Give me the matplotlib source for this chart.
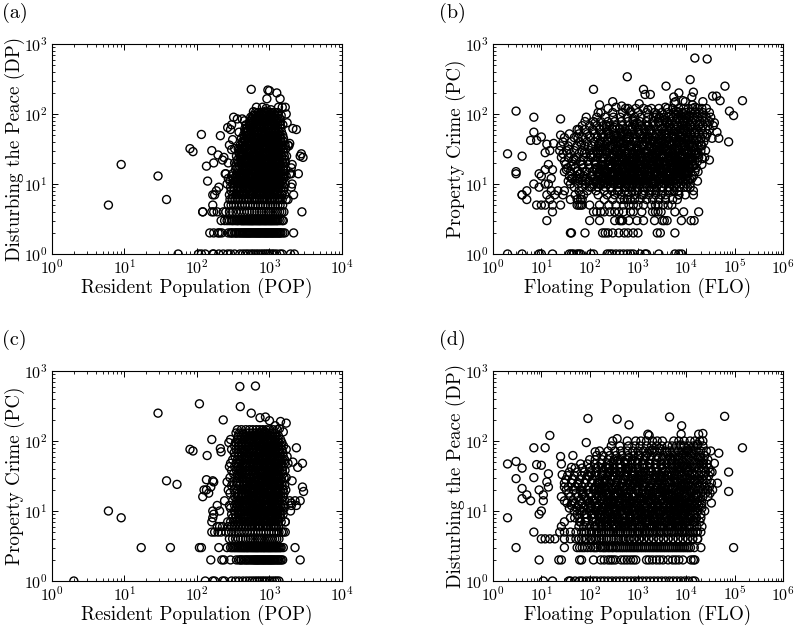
import numpy as np
import matplotlib
matplotlib.use('Agg')
import matplotlib.pyplot as plt
from matplotlib.ticker import LogLocator

# Font mirip LaTeX
plt.rcParams['font.family'] = ['cmr10', 'DejaVu Serif']
plt.rcParams['mathtext.fontset'] = 'cm'
plt.rcParams['axes.formatter.use_mathtext'] = True
plt.rcParams['axes.unicode_minus'] = False

# (a) POP vs DP, titik yang terpisah
a_x = [6,9,29,38,80,88,115,120,135,140,160,170,165,175,185,200,210,195,225,235,245,270,265,290,300,320,310,280,300,330,360,420,380,450,560,950,1000,920,1260,1400,1500,1650,1330,1700,1750,2100,2350,1900,1850,2050,2000,2000,2500,2650,2750,2900,2050,2000,2150,1800,2800,660,800,900,1050,600]
a_y = [5,19,13,6,32,29,51,4,18,11,30,20,7,7,8,9,49,26,22,24,14,20,64,60,70,90,43,36,31,32,85,85,55,80,225,220,215,165,200,165,125,125,125,100,75,62,60,38,35,19,17,14,14,25,27,24,10,9,7,6,4,125,125,120,115,108]
# (a) baris per nilai DP
a_levels = [1,2,3,4,5,6,7,8,9,10,11,12,13,14,16,18,20,22,25,28,32,36,40,45,50,56,63,70,78,86,95,105,2,3]
a_rows = [
 [55,105,115,130,165,170,200,230,265,290,330,390,430,470,510,560,600,650,700,760,820,880,940,1000,1080,1150,1250,1400,1500,1950,2200],
 [150,170,195,205,220,270,290,310,330,350,370,385,400,430,460,490,520,550,590,630,670,710,750,800,850,900,950,1010,1070,1130,1200,1280,1360,1440,1530,1620,2150],
 [215,240,260,280,300,330,350,375,400,425,450,480,510,540,570,600,640,680,720,760,810,860,910,970,1030,1090,1160,1240,1320,1400,1500,1550],
 [120,160,170,190,230,250,280,310,345,375,410,450,490,530,575,620,670,720,780,840,900,970,1040,1120,1200,1290,1380,1480,1580],
 [165,270,295,320,350,385,420,460,500,545,590,640,690,750,810,880,950,1030,1110,1200,1300,1400,1520],
 [285,305,335,365,400,440,480,525,570,620,675,730,790,860,930,1010,1090,1180,1280,1390,1500,1700],
 [280,310,345,380,415,455,500,545,595,650,710,770,840,910,990,1070,1160,1260,1370,1490,1620],
 [295,325,355,390,430,470,515,565,615,670,730,795,865,940,1020,1110,1210,1310,1430,1560],
 [290,320,360,395,435,480,525,575,630,685,745,810,880,960,1040,1130,1230,1340,1460,1590],
 [260,310,340,375,410,450,495,540,590,645,705,770,835,910,990,1080,1170,1270,1390,1510,1650],
 [285,330,365,405,445,490,535,585,640,695,760,825,900,980,1060,1155,1255,1365,1490],
 [270,320,350,390,430,470,520,565,620,675,735,800,870,950,1030,1120,1215,1320,1440,1570],
 [300,345,380,420,460,505,555,605,660,720,785,850,925,1005,1090,1190,1290,1410,1540,1700],
 [250,310,355,395,435,480,525,575,630,690,750,815,890,965,1050,1140,1240,1350,1470,1600,1900],
 [340,375,415,455,500,550,600,655,715,780,850,925,1005,1095,1190,1295,1410,1530,1680],
 [345,385,425,470,515,565,615,675,735,800,870,950,1030,1120,1220,1330,1450,1580],
 [330,370,410,450,495,545,595,650,710,775,845,920,1000,1090,1185,1290,1400,1530,1660],
 [360,400,440,485,530,580,635,695,755,825,900,980,1065,1160,1260,1370,1500,1630],
 [350,390,430,475,520,570,625,680,745,810,880,960,1045,1135,1240,1350,1470,1600,1720],
 [380,420,465,510,560,610,670,730,795,865,940,1025,1115,1215,1320,1440,1570],
 [370,410,450,495,545,600,655,715,780,850,925,1005,1095,1190,1300,1415,1540,1680],
 [395,435,480,525,580,635,695,755,825,900,980,1065,1160,1265,1380,1500,1640,1800],
 [420,460,505,555,610,665,725,790,860,940,1020,1110,1210,1320,1440,1570],
 [410,450,495,545,600,660,720,785,855,930,1015,1105,1205,1310,1430,1560],
 [440,485,530,585,640,700,765,835,910,990,1080,1175,1280,1395,1520],
 [460,505,555,610,670,730,800,870,950,1035,1130,1230,1340,1460],
 [490,540,590,650,710,775,845,920,1005,1095,1195,1300,1420],
 [470,530,585,640,700,765,835,910,995,1085,1180,1290,1410,1530],
 [540,595,650,715,780,850,930,1010,1100,1200,1310,1420],
 [570,625,685,750,820,895,975,1060,1155,1260,1380],
 [590,650,710,775,845,920,1005,1095,1195,1300,1450],
 [640,700,770,840,920,1000,1090,1190,1300],
 [300,345,415,445,475,505,535,570,610,650,690,730,775,825,875,925,980,1040,1100,1165,1240,1320,1400],
 [312,362,412,437,465,495,525,555,585,620,660,700,740,785,835,885,940,1000,1060,1125,1200,1280],
]
# (a) titik tambahan di bagian padat
a_x2 = [355,372,388,402,418,433,447,462,476,491,506,519,533,548,561,577,592,606,621,634,649,664,678,693,707,722,736,751,766,779,794,808,823,838,852,867,881,896,911,924,939,953,968,983,997,1012,1026,1041,1056,1069,1084,1098,1113,1128,1142,1157,1171,1186,1201,1214,1229,1243,1258,1273,1287,1302,1316,1331,1346,1359,
 362,381,397,411,426,441,455,470,485,498,513,527,542,556,570,585,599,614,629,642,657,671,686,701,715,730,744,759,774,787,802,816,831,846,860,875,889,904,919,932,947,961,976,991,1005,1020,1034,1049,1064,1077,1092,1106,1121,1136,1150,1165,1179,1194,1209,1222,1237,1251,1266,1281,1295,1310,1324,1339,1354,1367,
 410,438,466,494,522,551,578,607,635,664,692,721,749,778,806,835,863,892,920,949,977,1006,1034,1063,1091,1120,1148,1177,1205,1234,1262,1291,1319]
a_y2 = [17,9,31,12,24,7,42,15,11,58,21,8,35,13,74,19,10,47,27,6,16,88,37,12,23,9,64,29,15,52,8,19,97,33,11,43,25,7,17,69,14,39,9,21,83,28,12,55,18,6,34,10,46,24,72,15,8,30,13,60,20,11,41,7,26,16,50,9,22,36,
 11,27,8,19,38,14,61,23,9,16,49,12,29,7,83,21,34,10,15,66,26,8,44,18,11,93,31,13,24,6,54,17,9,37,20,78,12,28,8,47,15,10,63,22,33,7,13,102,41,18,9,25,11,58,16,35,8,71,21,12,44,27,14,30,
 6,8,10,13,16,20,26,32,42,55,70,90,7,9,12,15,19,24,30,38,48,62,80,110,6,8,11,14,18,23,29,37,47]

# (b) FLO vs PC, titik yang terpisah
b_x = [2,3,3,3,4,4,5,6,7,7,8,9,10,12,14,16,13,15,12,14,18,17,25,25,120,160,150,240,350,600,550,130,1300,1400,1800,3800,7000,12000,15000,27000,14000,5500,6000,9500,13000,22000,35000,42000,50000,63000,78000,95000,145000,75000,47000,30000,38000,43000,34000,30000,60]
b_y = [27,15,14,110,7,25,8,42,55,90,42,14,47,16,10,12,37,30,28,19,38,16,85,50,225,135,105,120,125,340,120,75,225,190,190,250,200,310,630,610,205,175,150,150,175,150,180,180,155,250,110,95,155,40,45,60,75,55,45,22,60]
b_levels = [120,105,90,78,68,60,52,46,40,35,30,27,24,21,19,17,15,13,12,11,10,9,8,7,6,5,4,3,2,1]
b_rows = [
 [620,900,1300,1900,2700,4100,5200,7000,8800,11000,13500,17000,21000,26000],
 [170,300,480,700,1000,1500,2200,3100,4100,5400,6700,8300,10000,12500,15000,18000,22000,30000],
 [85,140,210,310,430,600,850,1150,1600,2100,2800,3500,4400,5400,6600,8000,9500,11500,14000,17000,21000,26000,32000],
 [80,120,170,240,330,450,620,820,1100,1500,2000,2600,3200,4000,5000,6000,7300,8900,10500,13000,16000,19000,24000,30000],
 [70,100,140,190,260,350,480,650,880,1200,1600,2100,2800,3600,4500,5600,6800,8200,10000,12500,15000,18000,22000,28000,36000],
 [55,80,115,160,220,300,410,550,750,1000,1350,1800,2400,3100,3900,4900,6000,7400,9000,11000,13500,16500,20000,25000],
 [38,60,90,125,175,240,330,450,610,830,1100,1500,2000,2700,3500,4400,5500,6700,8200,10000,12200,15000,18000,22000,27000],
 [30,48,72,105,145,200,270,370,500,680,920,1250,1700,2300,3000,3900,5000,6100,7500,9200,11000,13500,16500,20000,25000],
 [28,42,62,88,125,170,235,320,430,590,800,1080,1450,1950,2600,3400,4400,5600,6900,8400,10200,12500,15000,18500,23000],
 [25,36,54,78,110,150,205,280,380,520,700,950,1280,1750,2350,3100,4000,5100,6300,7800,9500,11500,14000,17000,21000],
 [24,33,48,70,100,135,185,250,340,460,630,850,1150,1550,2100,2800,3700,4700,5900,7300,9000,11000,13000,16000,20000,25000],
 [28,40,60,85,120,165,225,300,410,560,760,1020,1400,1900,2500,3300,4300,5400,6700,8300,10000,12500,15500],
 [26,36,52,76,105,145,195,265,360,490,670,910,1230,1660,2250,3000,3900,4900,6200,7600,9300,11500,14000,18000,24000],
 [30,44,64,92,130,180,240,325,440,600,810,1100,1480,2000,2700,3600,4600,5800,7200,8900,11000,13500,17000],
 [32,46,68,96,135,185,250,340,460,620,840,1140,1540,2100,2800,3700,4700,6000,7400,9000,11000,14000,21000],
 [35,50,72,100,140,195,265,360,490,660,890,1200,1630,2200,2950,3900,5000,6300,7800,9600,12000,16000],
 [30,40,56,80,115,160,220,300,405,550,745,1010,1370,1850,2500,3350,4400,5600,7000,8700,11000,15000],
 [10,38,52,75,105,150,210,285,390,530,715,970,1310,1770,2400,3200,4200,5400,6800,8400,10500,14000],
 [42,60,85,125,175,240,330,445,600,810,1100,1480,2000,2700,3600,4700,6000,7600,9500,13000],
 [36,50,70,100,145,200,275,375,505,685,925,1250,1690,2300,3100,4100,5300,6800,8500,11000,17000],
 [7,12,40,58,82,120,170,230,320,430,580,780,1060,1430,1950,2650,3550,4700,6100,7800,10000,12000],
 [9,48,70,100,150,210,280,380,520,700,950,1300,1750,2400,3200,4300,5600,7200,9000,12000],
 [16,22,30,60,90,135,200,290,400,550,750,1000,1350,1800,2400,3200,4200,5600,7000,14000],
 [4,13,19,28,50,65,75,150,230,330,450,620,860,1200,1700,2300,3000,3700,7000,9500,14000],
 [5,15,40,55,65,70,200,300,430,520,600,700,850,1100,1500,2000,2700,3700,5200,6500],
 [8,10,12,17,25,55,60,65,70,100,160,250,350,500,650,800,1000,1300,1900,2300,2600,3300,4200,5000],
 [17,120,140,170,200,260,330,400,500,700,800,1200,2000,2300,2600,3000,5800,8800,18000],
 [13,100,160,330,420,450,480,650,950,1300,2200,3200,3500,4000,7900,12500,14500],
 [40,42,80,185,210,240,300,400,520,620,800,1000,2500,2900,5800],
 [2,4,9,10,17,38,42,46,55,60,65,105,120,230,260,290,350,420,500,600,700,800,1100,1400,1500,2700,5800,7000,8000],
]
# (b) titik tambahan di bagian padat
b_x2 = [33,37,44,51,57,64,73,82,93,104,112,121,134,147,158,171,186,203,219,236,252,271,292,316,341,365,392,419,448,482,517,553,592,634,681,729,783,838,897,962,1030,1104,1183,1268,1358,1455,1559,1670,1790,1918,2055,2202,2359,2528,2708,2902,3109,3331,3569,3824,4097,4390,4704,5040,5400,5786,6199,6642,7117,7625,8170,8754,9379,10050,10768,11537,12361,13245,14191,15205,16292,17456,18703,20040,21471,
 41,55,68,86,99,117,139,163,192,226,258,297,336,385,436,497,566,648,737,842,961,1096,1250,1427,1628,1857,2119,2418,2759,3148,3592,4098,4676,5336,6088,6946,7925,9042,10317,11771,13431,15324,17484,19950,
 47,62,78,96,127,154,181,213,247,286,328,376,430,493,563,644,735,840,958,1094,1249,1425,1626,1856,2118,2417,2758,3147,3591,4097,4675,5335,6087,6945,7924,9041,10316,11770,13430,15323,
 110,132,158,189,224,268,318,380,452,540,643,766,913,1089,1298,1547,1844,2198,2620,3123,3722,4437,5289,6304,7515,8957,
 128,152,181,217,260,310,372,444,531,635,759,908,1086,1299,1554,1858,2222,2658,3179,3802,4547,5438,6504,7779,9304,
 300,370,460,570,700,860,1060,1300,1600,1980,2440,3000,3700,4560,5620,6930,8540,10530]
b_y2 = [16,31,12,22,45,14,19,11,35,26,13,58,17,28,10,41,21,15,70,33,12,24,18,49,11,29,16,62,38,13,23,10,20,44,14,31,82,17,12,26,55,19,11,36,15,68,24,13,42,18,10,28,90,33,16,12,52,21,37,14,76,25,17,11,46,31,110,19,13,60,27,39,15,85,22,12,50,34,18,125,28,15,72,44,23,
 18,12,37,15,48,24,10,30,13,66,19,11,42,16,27,56,12,21,34,14,75,17,10,25,46,13,32,20,88,15,38,11,62,23,100,17,43,14,30,95,19,54,26,36,
 23,14,28,11,20,38,16,12,52,25,14,10,33,18,44,12,22,72,15,27,11,40,19,60,13,24,35,17,82,12,29,48,16,105,21,68,14,37,135,26,
 9,11,13,10,12,9,14,10,11,13,9,12,10,14,11,9,13,10,12,15,11,9,13,10,12,14,
 16,14,18,15,17,13,19,16,14,18,15,20,13,17,16,19,14,18,15,17,13,20,16,18,14,
 150,8,130,9,110,8,140,7,115,8,100,9,125,8,145,7,155,9]

# (b) dan (d) memakai nilai FLO yang sama untuk bagian tengah
flo_x3 = [150,157,164,171,179,187,195,204,213,223,233,243,254,266,278,290,303,317,331,346,362,378,395,413,431,451,471,492,514,537,561,587,613,640,669,699,731,764,798,834,871,911,951,994,1039,1086,1135,1186,1239,1295,1353,1414,1478,1544,1614,1686,1762,1842,1925,2011,2102,2196,2295,2398,2506,2619,2737,2860,2989,3123,3264,3411,3564,3725,3892,4067,4250,4442,4641,4850,5068,5296,5535,5784,6044,6316,6600,6897,7208,7532,7871,8225,8596,8982,9387,9809,10251,10712,11194,11698,
 160,168,175,183,192,200,209,218,229,238,249,260,272,284,297,310,325,339,354,371,387,404,423,441,461,482,504,526,550,574,601,627,655,685,715,748,782,817,853,892,932,974,1018,1063,1111,1161,1213,1268,1325,1385,1447,1513,1580,1652,1726,1804,1885,1970,2058,2151,2248,2349,2455,2565,2681,2801,2927,3059,3197,3340,3491,3648,3812,3984,4163,4350,4546,4751,4965,5188,5422,5666,5921,6188,6466,6757,7061,7379,7711,8059,8421,8800,9197,9611,10043,10495,10967,11461,11977,12516]
b_y3 = [27,14,38,19,11,46,23,16,31,12,57,21,35,13,18,43,26,11,64,17,29,14,39,22,12,50,19,33,15,25,45,12,28,17,60,21,36,13,24,41,16,11,31,54,19,14,27,37,12,22,48,17,30,13,68,20,34,15,26,42,11,23,18,52,29,14,38,21,16,62,25,12,33,19,45,15,28,72,13,22,36,17,56,26,14,40,20,31,12,48,24,16,80,34,19,58,27,14,43,22,
 16,33,12,24,52,18,13,29,41,15,22,11,36,19,61,14,26,17,44,12,31,21,13,55,24,16,38,11,28,19,47,14,34,22,12,66,17,27,15,40,23,11,30,18,51,13,25,35,16,20,12,43,28,14,58,19,33,11,24,37,17,46,13,21,75,29,15,40,12,26,18,53,32,14,23,64,11,36,19,27,16,48,22,13,85,30,17,41,25,12,60,20,35,15,95,28,44,18,70,24]
d_y3 = [12,7,24,9,16,33,8,19,11,6,28,14,41,9,21,7,13,36,10,17,6,26,12,8,47,15,9,22,7,31,11,18,6,39,13,8,25,10,16,7,52,20,9,12,29,6,15,35,8,23,11,7,18,44,10,14,6,27,9,19,33,7,12,24,8,57,16,10,6,30,13,21,7,38,9,15,11,26,6,48,17,8,12,34,7,20,10,42,14,6,23,9,65,18,11,7,29,13,37,8,
 21,10,6,15,38,8,12,26,7,18,9,45,13,6,31,11,17,8,23,7,54,14,10,28,6,19,9,35,12,7,16,42,8,24,11,6,29,13,7,20,9,50,15,6,33,10,18,8,25,12,61,7,14,37,9,22,6,16,11,30,8,47,13,7,19,27,6,10,40,15,8,23,12,70,7,17,9,32,6,21,11,14,55,8,26,7,18,10,36,13,6,44,9,24,16,7,75,12,28,8]

# (c) POP vs PC, titik yang terpisah
c_x = [2,6,9,17,29,38,43,53,80,88,108,115,135,138,145,160,165,210,215,230,390,395,640,560,740,880,1000,1200,1420,1700,1550,1370,2350,2850,2450,2100,2050,2850,2950,2650,2000,1950,2250,2350,1650,1650,135,125,120,170,155]
c_y = [1,10,8,3,250,27,3,24,76,72,340,3,28,62,18,105,27,78,70,200,600,310,610,250,215,220,195,165,190,180,135,150,80,48,42,50,27,22,19,14,13,10,14,12,7,5,20,20,16,26,22]
c_levels = [1,2,3,4,5,6,7,8,9,10,11,12,14,16,18,20,23,26,30,34,38,43,48,54,60,68,76,85,95,105,118,130,145,2,3]
c_rows = [
 [130,165,175,225,240,300,340,380,430,480,530,580,630,680,730,790,850,920,1000,1090,1180,1260,1350],
 [155,220,235,290,350,380,410,460,500,550,600,640,680,720,770,820,870,930,990,1050,1120,1200,1300,1450,1520,2650],
 [108,200,260,290,320,350,380,410,440,470,500,540,580,620,660,700,750,800,850,910,970,1030,1100,1180,1260,1350,1450,1550,2250],
 [280,310,340,370,400,430,470,510,550,590,630,680,730,780,840,900,960,1030,1100,1180,1260,1350],
 [160,175,195,215,250,275,300,335,370,405,445,490,535,585,640,700,760,830,900,980,1060,1150,1250,1350,1470,1550],
 [190,205,225,270,300,330,365,400,440,480,525,575,630,685,745,810,880,960,1040,1130,1230,1340],
 [160,265,290,320,355,390,430,470,515,565,615,670,735,800,870,950,1030,1120,1220,1330,1450,1650],
 [165,310,345,380,420,460,505,555,605,660,720,785,855,930,1015,1105,1200,1310,1430],
 [170,300,335,375,410,450,495,545,595,650,710,770,840,915,1000,1090,1185,1290,1410,1540],
 [165,205,330,365,405,445,490,535,585,640,700,765,830,905,985,1075,1170,1280,1395,1520],
 [290,345,385,425,465,510,560,615,670,730,795,865,945,1030,1120,1220,1330,1450,1600],
 [190,280,330,365,405,450,495,540,595,650,710,775,845,920,1000,1090,1190,1300,1420,1550,2000],
 [240,310,350,390,430,475,520,570,625,680,745,810,885,965,1050,1145,1250,1360,1480,1620,1900],
 [330,370,410,455,500,545,600,655,715,780,850,925,1005,1095,1195,1300,1420,1550],
 [285,340,380,420,465,510,560,610,670,730,795,865,945,1030,1120,1220,1330,1450,1590],
 [270,325,365,405,450,495,540,595,650,710,770,840,915,1000,1090,1190,1295,1410,1540,1680],
 [300,350,390,430,475,525,575,630,685,750,815,890,970,1055,1150,1255,1365,1490,1620],
 [260,310,355,395,440,485,530,580,635,695,760,825,900,980,1065,1160,1265,1380,1500],
 [285,340,380,420,465,510,560,615,670,730,795,870,945,1030,1125,1225,1335,1455,1590,1700],
 [320,365,405,450,495,545,595,650,710,775,845,920,1000,1090,1190,1300,1415,1540],
 [300,350,390,430,475,525,575,630,690,750,820,890,970,1060,1155,1260,1370,1500,1640],
 [280,330,370,410,450,495,545,600,655,715,780,850,925,1005,1100,1200,1305,1420,1550],
 [290,345,385,425,470,515,565,620,675,740,805,880,960,1045,1140,1240,1350,1470,1610,1800],
 [310,360,400,440,485,530,580,635,695,755,825,900,980,1065,1160,1265,1380,1500,1620],
 [335,375,415,455,500,550,600,655,715,780,850,925,1010,1100,1200,1305,1420,1550,1750],
 [325,365,405,445,490,540,590,645,705,770,840,915,995,1085,1185,1290,1400,1530],
 [300,345,385,425,470,515,565,620,680,740,810,880,960,1045,1140,1240,1350,1480,1700],
 [330,370,410,455,500,550,600,660,720,785,855,930,1015,1105,1205,1310,1430,1560],
 [275,340,380,420,465,515,565,620,680,740,805,880,960,1045,1140,1240,1355,1480],
 [290,360,400,445,490,540,590,650,710,775,845,920,1005,1095,1195,1300,1420],
 [370,410,455,500,550,605,660,725,790,860,940,1025,1115,1215,1330],
 [345,385,430,480,530,585,640,700,770,840,915,1000,1090,1190],
 [360,410,470,530,590,660,730,810,900,1010,1130,1280],
 [400,435,480,525,575,620,660,700,745,795,845,900,960,1020,1085,1160,1250,1340,1400],
 [305,335,365,395,425,455,490,520,560,600,640,680,725,775,830,880,940,1000,1065,1140,1220,1305,1400],
]
# (c) titik tambahan di bagian padat
c_x2 = [358,374,391,405,421,436,450,465,479,494,509,522,536,551,564,580,595,609,624,637,652,667,681,696,710,725,739,754,769,782,797,811,826,841,855,870,884,899,914,927,942,956,971,986,1000,1015,1029,1044,1059,1072,1087,1101,1116,1131,1145,1160,1174,1189,1204,1217,1232,1246,1261,1276,1290,1305,1319,1334,1349,1362,
 365,384,400,414,429,444,458,473,488,501,516,530,545,559,573,588,602,617,632,645,660,674,689,704,718,733,747,762,777,790,805,819,834,849,863,878,892,907,922,935,950,964,979,994,1008,1023,1037,1052,1067,1080,1095,1109,1124,1139,1153,1168,1182,1197,1212,1225,1240,1254,1269,1284,1298,1313,1327,1342,1357,1370,
 413,441,469,497,525,554,581,610,638,667,695,724,752,781,809,838,866,895,923,952,980,1009,1037,1066,1094,1123,1151,1180,1208,1237,1265,1294,1322]
c_y2 = [25,13,52,9,36,17,71,11,44,21,7,93,29,15,57,10,33,19,118,24,8,41,13,65,27,6,16,84,38,11,22,49,9,31,136,18,12,60,26,7,43,15,77,35,10,20,54,8,104,28,14,39,11,68,23,6,17,47,32,9,88,13,30,19,56,10,42,16,74,25,
 14,33,10,61,20,8,47,27,12,82,17,38,7,24,109,11,53,30,15,9,70,21,42,6,127,13,35,18,58,10,26,91,14,45,8,22,64,12,31,16,100,9,50,19,37,7,76,28,11,56,23,13,40,85,10,34,17,48,20,66,
 6,8,11,14,18,23,30,40,52,68,90,125,7,10,13,16,21,27,35,46,60,78,110,140,6,9,12,15,20,26,33,44,58]

# (d) FLO vs DP, titik yang terpisah
d_x = [2,2,3,3,3,4,4,4,5,6,7,7,8,9,9,10,10,12,13,15,14,14,11,11,92,370,370,650,4500,62000,8000,7800,145000,95000,75000,75000,47000,44000,38000,34000,33000,85,45,25,26,27,30,42,130,1600,1700,18000,22000]
d_y = [47,8,51,29,3,41,21,15,17,14,30,80,46,20,9,45,10,80,26,120,34,22,17,14,210,205,108,170,220,225,165,125,80,3,36,19,67,25,48,36,13,95,62,60,47,33,22,42,70,125,120,125,128]
d_levels = [100,85,72,62,54,47,41,36,32,28,25,22,20,18,16,14,13,12,11,10,9,8,7,6,5,4,3,2,1,5,4,3]
d_rows = [
 [300,600,900,1150,1500,2000,2500,3200,5500,7000,9000,12000,15000,19000,22000],
 [280,420,640,860,1100,1500,1900,2400,3100,4100,5100,6200,7600,9000,11000,14000,17000,22000],
 [160,240,330,440,600,780,1000,1300,1700,2200,2800,3600,4500,5600,6900,8500,10500,13000,16000,20000,26000,32000],
 [140,190,260,350,470,620,830,1100,1450,1900,2500,3300,4200,5300,6600,8100,10000,12500,15500,19000,24000],
 [100,130,180,240,320,430,570,760,1010,1350,1800,2400,3150,4100,5200,6500,8000,9900,12200,15000,18500,23000,28000],
 [65,90,125,170,230,305,410,545,725,970,1290,1720,2300,3000,3900,5000,6300,7800,9600,11800,14500,18000,22000,27000],
 [50,70,100,135,180,240,320,430,570,760,1010,1350,1800,2400,3150,4100,5200,6500,8000,9900,12200,15000,18500,23000,29000],
 [38,55,78,105,140,190,255,340,455,605,810,1080,1440,1920,2560,3400,4400,5600,7000,8700,10700,13200,16200,20000,25000,31000],
 [35,48,68,95,130,175,235,310,415,555,740,990,1320,1760,2350,3100,4000,5100,6400,8000,9800,12000,15000,18500,23000,29000],
 [32,44,62,85,115,155,210,280,375,500,670,890,1190,1590,2120,2800,3700,4800,6100,7600,9400,11600,14300,17500,22000,27000],
 [30,42,58,80,108,145,195,260,350,465,620,830,1105,1475,1970,2630,3500,4500,5800,7300,9000,11100,13700,17000,21000,26000,33000],
 [36,50,70,95,130,175,235,315,420,560,750,1000,1335,1780,2370,3150,4100,5200,6500,8100,10000,12400,15300,19000,24000,30000],
 [33,46,64,88,120,160,215,290,385,515,690,920,1225,1635,2180,2900,3800,4900,6200,7800,9600,11800,14500,18000,22500,28000,35000],
 [37,52,72,98,135,180,245,325,435,580,775,1035,1380,1840,2450,3250,4250,5400,6800,8400,10400,12900,16000,20000,25000,31000],
 [26,40,58,80,110,150,200,270,360,480,640,855,1140,1520,2030,2700,3600,4700,6000,7500,9300,11500,14200,17500,22000,28000],
 [30,45,65,90,125,170,230,305,410,545,730,970,1295,1730,2300,3050,4000,5100,6500,8100,10000,12400,15300,19000],
 [34,50,70,100,135,185,250,335,445,595,795,1060,1410,1880,2510,3330,4350,5500,7000,8700,10700,13200,16500,21000],
 [42,58,80,110,150,205,275,365,490,650,870,1160,1550,2060,2750,3650,4700,6000,7600,9400,11600,14500,18000],
 [38,55,75,105,140,190,255,340,455,610,810,1080,1440,1920,2560,3400,4400,5700,7200,8900,11000,13700,17000,21000],
 [48,70,100,135,185,250,335,445,595,795,1060,1410,1880,2510,3330,4350,5500,7000,8700,10800,13500,17000,24000],
 [55,78,110,150,205,275,365,490,650,870,1160,1550,2060,2750,3650,4800,6100,7700,9600,12000,15000,20000],
 [40,62,88,125,170,230,305,410,545,730,970,1295,1730,2300,3050,4000,5100,6500,8200,10200,12800,16000,20000],
 [30,65,85,115,155,210,280,375,500,670,890,1190,1590,2120,2800,3700,4800,6100,7700,9600,12000,15000,19000],
 [26,60,75,100,135,180,240,320,430,570,760,1010,1350,1800,2400,3150,4150,5300,6700,8300,10300,13000,16500,21000],
 [7,24,30,40,52,68,85,110,140,175,220,280,350,440,550,690,860,1080,1350,1700,2100,2700,3400,4200,5300,6700,8500,10600,13500,17000,20000],
 [10,12,15,19,30,40,52,68,85,110,140,175,220,280,350,440,550,690,860,1080,1350,1700,2100,2700,3400,4200,5300,6700,8500,10600,13500,17000],
 [30,62,70,90,120,140,165,200,240,290,350,420,500,600,720,860,1030,1240,1490,1790,2150,2580,3100,3720,4470,5360,6430,7720,9260,11100,20000],
 [9,23,26,62,68,120,170,200,240,270,300,340,450,520,600,700,800,900,1500,1700,2000,2400,2800,3300,4200,5200,6000,7000,8500,12500,14000,15000],
 [11,17,37,40,50,62,70,85,100,120,140,170,200,240,290,350,420,500,600,720,860,1030,1240,1490,1790,2150,2580,3100,3720,4470,5360,6430,7720,9260,11100,13500,15000],
 [78,98,125,155,195,245,310,390,490,620,780,985,1240,1560,1970,2480,3130,3940,4970,6260,7890,9940,12500,15800],
 [60,80,105,130,160,195,250,320,400,510,650,820,1040,1310,1660,2100,2650,3350,4230,5350,6760,8540,10800,13600,17200],
 [55,78,105,130,185,215,260,310,380,460,550,660,790,950,1140,1370,1640,1970,2370,2840,3410,4090,4910,5890,7070,8490,10200,12200,14600],
]
# (d) titik tambahan di bagian padat
d_x2 = [43,49,56,63,71,80,90,101,113,124,137,151,165,182,199,218,238,262,286,312,343,376,412,451,494,541,592,649,711,779,853,934,1023,1120,1227,1344,1472,1612,1766,1934,2118,2320,2541,2783,3048,3339,3657,4005,4387,4805,5263,5765,6314,6916,7575,8297,9087,9953,10902,11941,13079,14326,15691,17186,18824,20618,22583,
 72,84,98,115,134,157,184,215,252,295,345,404,473,554,648,759,888,1040,1217,1425,1668,1952,2285,2675,3132,3666,4292,5024,5882,6885,8060,9436,11047,12932,15140,
 62,76,93,108,127,149,174,204,239,280,327,383,449,525,615,720,843,987,1155,1352,1583,1854,2170,2540,2974,3481,4075,4771,5585,6538,7654,8961,10490,12281,14377,16831,19704,
 125,145,172,198,233,268,315,366,426,497,579,674,785,914,1064,1239,1443,1680,1956,2278,2652,3088,3596,4187,4875,5677,6610,7697,8962,10436,12151,14149,16475,
 108,129,153,182,216,257,306,363,432,513,610,725,862,1025,1218,1448,1722,2047,2433,2893,3439,4088,4860,5778,6869,8166,9708,11541,13720,16311]
d_y2 = [13,8,24,10,17,7,32,12,9,21,15,43,8,27,11,18,6,36,14,9,23,52,12,7,29,16,10,41,20,8,33,13,63,6,25,11,18,9,47,15,7,30,12,78,21,10,37,8,16,55,13,26,6,19,11,44,9,71,23,14,34,7,17,90,28,12,48,
 19,9,31,14,7,25,11,42,17,8,35,13,22,6,58,10,28,15,46,8,19,74,12,33,7,24,16,52,10,39,9,21,13,66,27,
 7,16,11,34,9,20,6,27,13,38,8,18,10,50,15,7,24,12,31,9,66,14,6,21,44,11,17,8,29,13,88,10,36,19,7,25,58,
 6,12,8,22,10,7,16,9,35,6,13,8,27,11,7,18,9,48,6,14,10,24,7,32,8,15,6,20,9,42,11,7,17,
 5,6,5,7,6,5,8,6,5,7,5,6,9,5,6,7,5,8,6,5,7,6,5,9,6,5,7,6,5,8]

def gabung(x_extra, y_extra, x_more, y_more, levels, rows):
    # Satukan titik terpisah, titik tambahan dan baris per nilai y
    n = min(len(x_more), len(y_more))
    xs = list(x_extra) + list(x_more[:n])
    ys = list(y_extra) + list(y_more[:n])
    for level, row in zip(levels, rows):
        xs += row
        ys += [level] * len(row)
    return xs, ys

W, H = 795, 627
fig = plt.figure(figsize=(W / 100, H / 100), dpi=100)

panels = [
    ('(a)', 2, 13, 52, 44, 4, 'Resident Population (POP)', 'Disturbing the Peace (DP)', a_x, a_y, a_x2, a_y2, [], [], a_levels, a_rows),
    ('(b)', 439, 13, 493, 44, 6, 'Floating Population (FLO)', 'Property Crime (PC)', b_x, b_y, b_x2, b_y2, flo_x3, b_y3, b_levels, b_rows),
    ('(c)', 2, 340, 52, 371, 4, 'Resident Population (POP)', 'Property Crime (PC)', c_x, c_y, c_x2, c_y2, [], [], c_levels, c_rows),
    ('(d)', 439, 340, 493, 371, 6, 'Floating Population (FLO)', 'Disturbing the Peace (DP)', d_x, d_y, d_x2, d_y2, flo_x3, d_y3, d_levels, d_rows),
]

for tag, tx, ty, left, top, xmax, xlabel, ylabel, ex, ey, mx, my, cx, cy, levels, rows in panels:
    ax = fig.add_axes([left / W, 1 - (top + 210) / H, 290 / W, 210 / H])
    xs, ys = gabung(ex, ey, mx, my, levels, rows)
    n = min(len(cx), len(cy))
    xs += list(cx[:n])
    ys += list(cy[:n])
    ax.scatter(xs, ys, s=33, facecolors='none', edgecolors='black', linewidths=1.0)
    ax.set_xscale('log')
    ax.set_yscale('log')
    ax.set_xlim(1, 10 ** xmax)
    ax.set_ylim(1, 1000)
    ax.xaxis.set_major_locator(LogLocator(base=10, numticks=12))
    ax.xaxis.set_minor_locator(LogLocator(base=10, subs=range(2, 10), numticks=12))
    ax.set_xlabel(xlabel, fontsize=13.7, labelpad=1)
    ax.set_ylabel(ylabel, fontsize=13.7, labelpad=-1)
    ax.tick_params(which='major', direction='in', top=True, right=True, length=4, width=0.7, labelsize=11.5, pad=3)
    ax.tick_params(which='minor', direction='in', top=True, right=True, length=2, width=0.6)
    fig.text(tx / W, 1 - ty / H, tag, fontsize=14.5, va='center', ha='left')

fig.savefig('out.png', dpi=100)
